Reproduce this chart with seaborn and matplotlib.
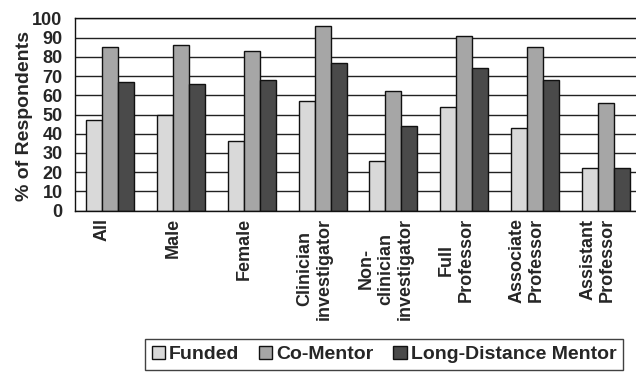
import matplotlib
matplotlib.use("Agg")
import matplotlib.pyplot as plt
import matplotlib.transforms as mtransforms
import seaborn as sns
import pandas as pd

# data
groups = ["All", "Male", "Female", "Clinician\ninvestigator", "Non-\nclinician\ninvestigator",
          "Full\nProfessor", "Associate\nProfessor", "Assistant\nProfessor"]
series = ["Funded", "Co-Mentor", "Long-Distance Mentor"]
funded = [47, 50, 36, 57, 26, 54, 43, 22]
co_mentor = [85, 86, 83, 96, 62, 91, 85, 56]
long_distance = [67, 66, 68, 77, 44, 74, 68, 22]
colors = ["#d9d9d9", "#a6a6a6", "#4a4a4a"]

sns.set_style("white")
plt.rcParams['font.family'] = ['Liberation Sans', 'DejaVu Sans']
plt.rcParams['font.weight'] = 'bold'

df = pd.DataFrame({
    "group": groups * 3,
    "series": [series[0]] * 8 + [series[1]] * 8 + [series[2]] * 8,
    "value": funded + co_mentor + long_distance,
})

W, H = 636, 373
fig = plt.figure(figsize=(W / 100, H / 100), dpi=100)
ax = fig.add_axes([75 / W, 1 - 210.7 / H, (641 - 75) / W, (210.7 - 18.3) / H])

sns.barplot(ax=ax, data=df, x="group", y="value", hue="series", order=groups,
            hue_order=series, palette=colors, width=0.68, edgecolor="#111111",
            linewidth=1, saturation=1, legend=True)

ax.set_ylim(0, 100)
ax.set_xlim(-0.5, 7.5)
ax.set_yticks(range(0, 101, 10))
ax.yaxis.grid(True, color="#222222", linewidth=1)
ax.set_axisbelow(True)
for s in ["left", "bottom", "top"]:
    ax.spines[s].set_visible(True)
    ax.spines[s].set_color("#111111")
    ax.spines[s].set_linewidth(1)
ax.spines["right"].set_visible(False)

ax.set_xticks(range(len(groups)))
ax.set_xticklabels(groups, rotation=90, ha="center", va="top", multialignment="center",
                   fontsize=13, fontweight="bold")
ax.set_xticks([i - 0.5 for i in range(len(groups) + 1)], minor=True)
ax.tick_params(axis="x", which="major", length=0, pad=5)
ax.tick_params(axis="x", which="minor", length=4, width=1, color="#111111", direction="out")
ax.tick_params(axis="y", length=4, width=1, color="#111111", direction="out", pad=5, labelsize=13)
offset = mtransforms.ScaledTranslation(-8 / 100, 0, fig.dpi_scale_trans)
for lbl in ax.get_xticklabels():
    lbl.set_transform(lbl.get_transform() + offset)
for lbl in ax.get_yticklabels():
    lbl.set_fontweight("bold")

ax.set_xlabel("")
ax.set_ylabel("% of Respondents", fontsize=14, fontweight="bold")
ax.yaxis.set_label_coords((33 - 75) / 566, 0.492)

handles, labels = ax.get_legend_handles_labels()
ax.legend_.remove()
leg = fig.legend(handles, labels, loc="lower right", bbox_to_anchor=(623 / W, 3 / H),
                 ncol=3, frameon=True, fancybox=False, edgecolor="#111111",
                 prop={"size": 14, "weight": "bold"}, handlelength=0.7, handleheight=0.7,
                 handletextpad=0.2, columnspacing=1.0, borderpad=0.35, borderaxespad=0)
leg.get_frame().set_linewidth(1)

fig.savefig("out.png", dpi=100)
